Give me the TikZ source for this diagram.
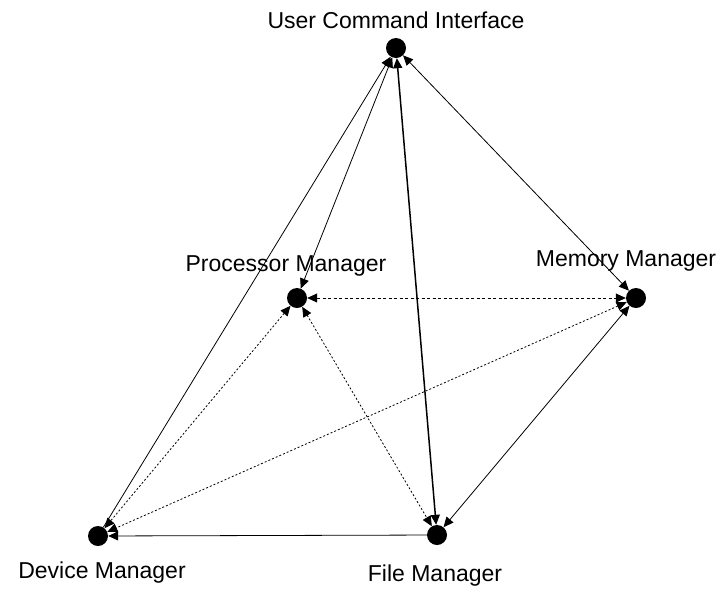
\documentclass[tikz,border=0pt]{standalone}
\usepackage{fontspec}
\setmainfont{Liberation Sans}
\usetikzlibrary{arrows.meta}
\begin{document}
\begin{tikzpicture}[x=1pt,y=-1pt,
  dot/.style={circle,fill=black,draw=none,minimum size=20pt,inner sep=0pt},
  lbl/.style={font=\fontsize{23}{27}\selectfont,inner sep=0pt},
  conn/.style={line width=0.8pt,{Triangle[length=10pt,width=9pt]}-{Triangle[length=10pt,width=9pt]}},
  oneway/.style={line width=0.8pt,-{Triangle[length=10pt,width=9pt]}},
  dashline/.style={dash pattern=on 3pt off 2.5pt},
  dotline/.style={dash pattern=on 2pt off 2pt}]
\useasboundingbox (0,0) rectangle (728,595);
\node[dot] (uci) at (396,48) {};
\node[dot] (pm) at (297,298) {};
\node[dot] (mm) at (636,298) {};
\node[dot] (dm) at (98,536) {};
\node[dot] (fm) at (437,535) {};
\node[lbl] (luci) at (396,20) {User Command Interface};
\node[lbl] (lpm) at (286,266) {Processor Manager};
\node[lbl] (lmm) at (626,261) {Memory Manager};
\node[lbl] (ldm) at (102,573) {Device Manager};
\node[lbl] (lfm) at (435,576) {File Manager};
\draw[oneway] (dm) -- (uci);
\draw[conn] (pm) -- (uci);
\draw[conn,line width=1.5pt] (fm) -- (uci);
\draw[conn] (mm) -- (uci);
\draw[conn,dashline] (pm) -- (mm);
\draw[conn,dotline] (pm) -- (fm);
\draw[conn,dotline] (pm) -- (dm);
\draw[conn,dotline] (mm) -- (dm);
\draw[conn] (mm) -- (fm);
\draw[oneway] (fm) -- (dm);
\end{tikzpicture}
\end{document}
